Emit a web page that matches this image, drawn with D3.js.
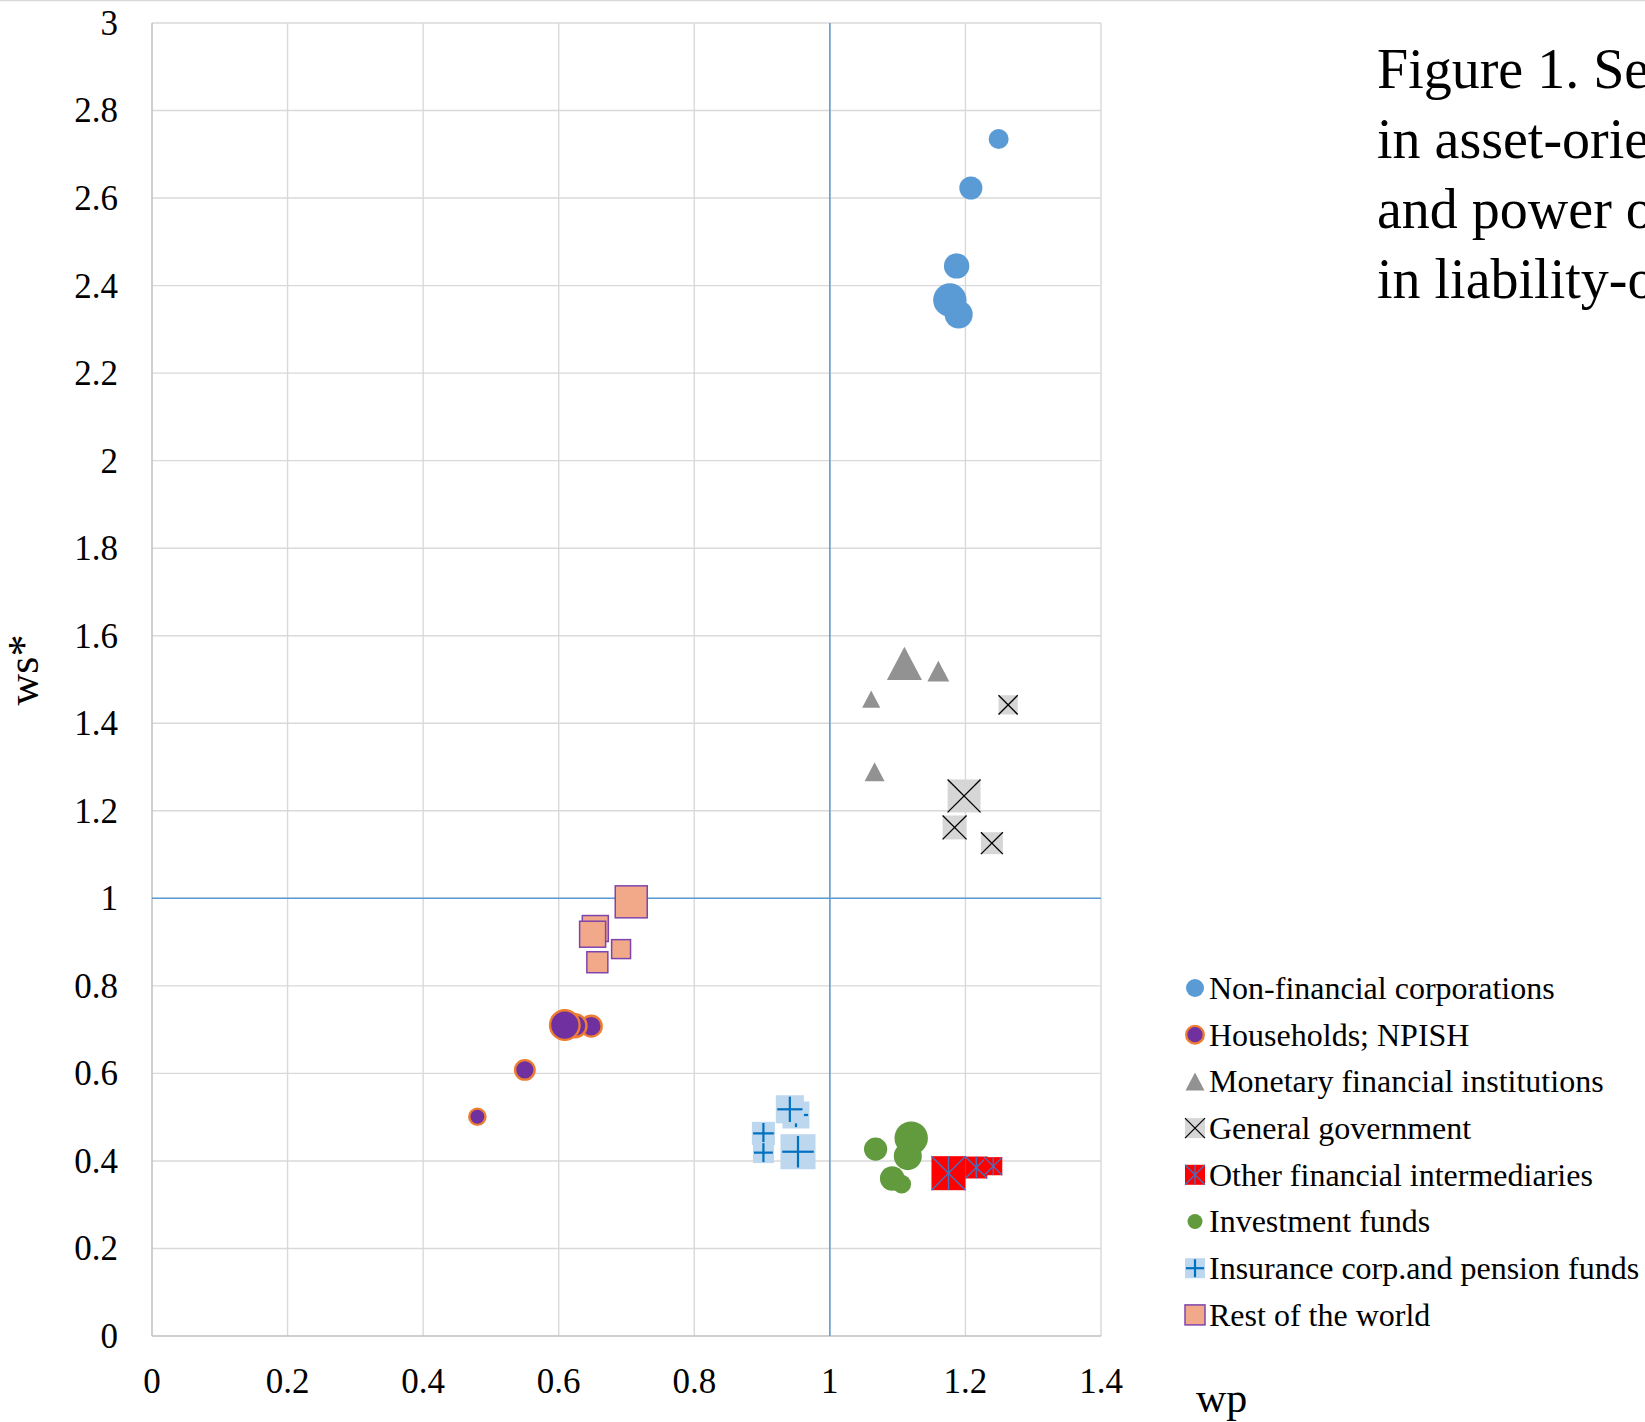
<!DOCTYPE html>
<html>
<head>
<meta charset="utf-8">
<script src="https://cdn.jsdelivr.net/npm/d3@7"></script>
<style>
  body { margin: 0; background: #fff; }
  svg { display: block; font-family: "Liberation Serif", "Times New Roman", serif; }
</style>
</head>
<body>
<svg id="chart" width="1645" height="1422"></svg>
<script>
// wp (x), ws* (y) and marker weight per sector
const nfcWp = [1.249, 1.208, 1.187, 1.177, 1.190];
const nfcWs = [2.735, 2.623, 2.445, 2.367, 2.334];
const nfcSize = [39, 52, 63, 109, 77];

const hhWp = [0.480, 0.550, 0.648, 0.624, 0.609];
const hhWs = [0.501, 0.608, 0.708, 0.709, 0.7105];
const hhSize = [34, 47, 53, 63, 100];

const mfiWp = [1.110, 1.160, 1.061, 1.066];
const mfiWs = [1.537, 1.519, 1.455, 1.289];
const mfiSize = [120, 47, 32, 39];

const ggWp = [1.263, 1.198, 1.184, 1.239];
const ggWs = [1.442, 1.234, 1.162, 1.126];
const ggSize = [36, 106, 56, 47];

const ofiWp = [1.175, 1.216, 1.241];
const ofiWs = [0.372, 0.385, 0.388];
const ofiSize = [113, 47, 32];

const ifWp = [1.0675, 1.120, 1.115, 1.092, 1.106];
const ifWs = [0.427, 0.452, 0.411, 0.360, 0.347];
const ifSize = [53, 109, 77, 59, 34];

const icpfWp = [0.950, 0.941, 0.902, 0.902, 0.953];
const icpfWs = [0.505, 0.518, 0.463, 0.419, 0.421];
const icpfSize = [71, 77, 52, 43, 120];

const rowWp = [0.707, 0.654, 0.650, 0.692, 0.657];
const rowWs = [0.992, 0.931, 0.918, 0.884, 0.854];
const rowSize = [100, 66, 66, 35, 43];

const xTicks = [0, 0.2, 0.4, 0.6, 0.8, 1, 1.2, 1.4];
const yTicks = [0, 0.2, 0.4, 0.6, 0.8, 1, 1.2, 1.4, 1.6, 1.8, 2, 2.2, 2.4, 2.6, 2.8, 3];

const titleLines = [
  "Figure 1. Sectors' wealth position",
  "in asset-oriented markets",
  "and power of sectors",
  "in liability-oriented markets"
];

const series = [
  { name: "Non-financial corporations", x: nfcWp, y: nfcWs, z: nfcSize, shape: "circle", fill: "#5B9BD5" },
  { name: "Households; NPISH", x: hhWp, y: hhWs, z: hhSize, shape: "circle", fill: "#7030A0", stroke: "#ED7D31" },
  { name: "Monetary financial institutions", x: mfiWp, y: mfiWs, z: mfiSize, shape: "triangle", fill: "#929292" },
  { name: "General government", x: ggWp, y: ggWs, z: ggSize, shape: "cross", fill: "#D6D6D6", line: "#000" },
  { name: "Other financial intermediaries", x: ofiWp, y: ofiWs, z: ofiSize, shape: "star", fill: "#FF0000", line: "#4472C4" },
  { name: "Investment funds", x: ifWp, y: ifWs, z: ifSize, shape: "circle", fill: "#629B3E" },
  { name: "Insurance corp.and pension funds", x: icpfWp, y: icpfWs, z: icpfSize, shape: "plus", fill: "#BDD7EE", line: "#0070C0" },
  { name: "Rest of the world", x: rowWp, y: rowWs, z: rowSize, shape: "square", fill: "#F2A98A", stroke: "#7F45AE" }
];

const svg = d3.select("#chart");
const margin = { left: 152, top: 23, right: 544, bottom: 86 };
const width = 1645 - margin.left - margin.right;
const height = 1422 - margin.top - margin.bottom;

const x = d3.scaleLinear().domain([0, 1.4]).range([0, width]);
const y = d3.scaleLinear().domain([0, 3]).range([height, 0]);
const diam = d3.scaleSqrt().domain([0, 100]).range([0, 32]);

// thin border at the very top of the page
svg.append("line")
  .attr("x1", 0).attr("x2", 1645).attr("y1", 0.5).attr("y2", 0.5)
  .attr("stroke", "#D9D9D9").attr("stroke-width", 1.5);

const g = svg.append("g").attr("transform", `translate(${margin.left},${margin.top})`);

// grid
g.append("g").selectAll("line")
  .data(yTicks.filter(d => d > 0))
  .enter().append("line")
  .attr("x1", 0).attr("x2", width)
  .attr("y1", d => y(d)).attr("y2", d => y(d))
  .attr("stroke", "#D9D9D9").attr("stroke-width", 1.4);

g.append("g").selectAll("line")
  .data(xTicks.filter(d => d > 0))
  .enter().append("line")
  .attr("x1", d => x(d)).attr("x2", d => x(d))
  .attr("y1", 0).attr("y2", height)
  .attr("stroke", "#D9D9D9").attr("stroke-width", 1.4);

// axis lines
g.append("line").attr("x1", 0).attr("x2", 0).attr("y1", 0).attr("y2", height)
  .attr("stroke", "#BFBFBF").attr("stroke-width", 1.5);
g.append("line").attr("x1", 0).attr("x2", width).attr("y1", height).attr("y2", height)
  .attr("stroke", "#BFBFBF").attr("stroke-width", 1.5);

// reference lines at 1
g.append("line").attr("x1", x(1)).attr("x2", x(1)).attr("y1", 0).attr("y2", height)
  .attr("stroke", "#5B9BD5").attr("stroke-width", 1.5);
g.append("line").attr("x1", 0).attr("x2", width).attr("y1", y(1)).attr("y2", y(1))
  .attr("stroke", "#5B9BD5").attr("stroke-width", 1.5);

// tick labels
g.append("g").selectAll("text")
  .data(yTicks)
  .enter().append("text")
  .attr("x", -34)
  .attr("y", d => y(d))
  .attr("dy", "0.34em")
  .attr("text-anchor", "end")
  .style("font-size", "35px")
  .text(d => d3.format("")(d));

g.append("g").selectAll("text")
  .data(xTicks)
  .enter().append("text")
  .attr("x", d => x(d))
  .attr("y", height + 57)
  .attr("text-anchor", "middle")
  .style("font-size", "35px")
  .text(d => d3.format("")(d));

// axis titles
svg.append("text")
  .attr("transform", "translate(38,670) rotate(-90)")
  .attr("text-anchor", "middle")
  .style("font-size", "44px")
  .text("ws*");

svg.append("text")
  .attr("x", 1196).attr("y", 1412)
  .style("font-size", "42px")
  .text("wp");

function drawMarker(sel, shape, cx, cy, d, s) {
  const h = d / 2;
  if (shape === "circle") {
    sel.append("circle")
      .attr("cx", cx).attr("cy", cy).attr("r", s.stroke ? h - 1.2 : h)
      .attr("fill", s.fill)
      .attr("stroke", s.stroke || "none")
      .attr("stroke-width", s.stroke ? 2.4 : 0);
  } else if (shape === "triangle") {
    const th = d * 0.95 / 2;
    sel.append("path")
      .attr("d", `M${cx},${cy - th}L${cx + h},${cy + th}L${cx - h},${cy + th}Z`)
      .attr("fill", s.fill);
  } else {
    sel.append("rect")
      .attr("x", cx - h).attr("y", cy - h).attr("width", d).attr("height", d)
      .attr("fill", s.fill)
      .attr("stroke", s.stroke || "none")
      .attr("stroke-width", s.stroke ? 1.5 : 0);
    const lines = [];
    if (shape === "cross" || shape === "star") {
      lines.push([cx - h, cy - h, cx + h, cy + h], [cx - h, cy + h, cx + h, cy - h]);
    }
    if (shape === "star") {
      lines.push([cx, cy - h, cx, cy + h]);
    }
    if (shape === "plus") {
      const a = h * 0.9;
      lines.push([cx - a, cy, cx + a, cy], [cx, cy - a, cx, cy + a]);
    }
    lines.forEach(l => {
      sel.append("line")
        .attr("x1", l[0]).attr("y1", l[1]).attr("x2", l[2]).attr("y2", l[3])
        .attr("stroke", s.line)
        .attr("stroke-width", shape === "plus" ? 2.2 : 1.3);
    });
  }
}

// points
series.forEach(s => {
  const sg = g.append("g");
  s.x.forEach((v, i) => {
    drawMarker(sg, s.shape, x(v), y(s.y[i]), diam(s.z[i]), s);
  });
});

// legend
const legendSizes = { circle: 18, triangle: 19, cross: 20, star: 20, plus: 20, square: 20 };
const legend = svg.append("g").attr("transform", "translate(1195,988)");
series.forEach((s, i) => {
  const ly = i * 46.7;
  let d = legendSizes[s.shape];
  if (s.name === "Investment funds") d = 15;
  if (s.name === "Households; NPISH") d = 20;
  drawMarker(legend, s.shape, 0, ly, d, s);
  legend.append("text")
    .attr("x", 14).attr("y", ly)
    .attr("dy", "0.34em")
    .style("font-size", "32px")
    .text(s.name);
});

// title (runs off the right edge, as in the source figure)
svg.append("g").selectAll("text")
  .data(titleLines)
  .enter().append("text")
  .attr("x", 1377)
  .attr("y", (d, i) => 88 + i * 70)
  .style("font-size", "56px")
  .text(d => d);
</script>
</body>
</html>
